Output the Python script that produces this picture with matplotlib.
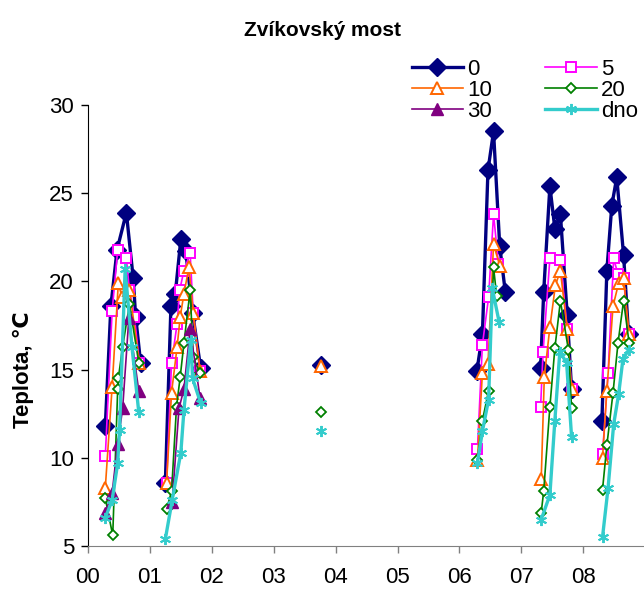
import numpy as np
import matplotlib.pyplot as plt
from matplotlib.lines import Line2D

nan = np.nan

# sampling dates (fractional years) and temperatures per depth, gaps between seasons
x_0 = [2000.28, 2000.37, 2000.47, 2000.62, 2000.73, 2000.77, 2000.85, nan,
       2001.25, 2001.34, 2001.41, 2001.50, 2001.58, 2001.69, 2001.82, nan,
       2003.76, nan,
       2006.28, 2006.37, 2006.46, 2006.55, 2006.65, 2006.74, nan,
       2007.31, 2007.36, 2007.46, 2007.54, 2007.63, 2007.74, 2007.81, nan,
       2008.30, 2008.38, 2008.46, 2008.54, 2008.65, 2008.73]
t_0 = [11.8, 18.6, 21.8, 23.9, 20.2, 18.0, 15.4, nan,
       8.6, 18.6, 19.3, 22.4, 21.7, 18.2, 15.1, nan,
       15.25, nan,
       14.9, 17.0, 26.3, 28.5, 22.0, 19.4, nan,
       15.1, 19.4, 25.4, 23.0, 23.8, 18.1, 13.9, nan,
       12.1, 20.6, 24.3, 25.9, 21.5, 17.0]

x_5 = [2000.28, 2000.39, 2000.48, 2000.62, 2000.67, 2000.75, 2000.83, nan,
       2001.27, 2001.35, 2001.44, 2001.48, 2001.55, 2001.65, 2001.70, 2001.81, nan,
       2006.29, 2006.37, 2006.47, 2006.55, 2006.63, nan,
       2007.31, 2007.35, 2007.46, 2007.63, 2007.74, 2007.81, nan,
       2008.31, 2008.40, 2008.49, 2008.56, 2008.65, 2008.73]
t_5 = [10.1, 18.3, 21.8, 21.3, 19.5, 18.0, 15.4, nan,
       8.6, 15.4, 17.6, 19.5, 20.6, 21.6, 18.2, 14.9, nan,
       10.5, 16.4, 19.1, 23.8, 21.0, nan,
       12.9, 16.0, 21.3, 21.2, 17.3, 13.9, nan,
       10.2, 14.8, 21.3, 20.4, 20.2, 17.0]

x_10 = [2000.28, 2000.39, 2000.49, 2000.55, 2000.67, 2000.83, nan,
        2001.27, 2001.35, 2001.44, 2001.49, 2001.55, 2001.63, 2001.70, 2001.81, nan,
        2003.76, nan,
        2006.29, 2006.37, 2006.46, 2006.55, 2006.65, nan,
        2007.32, 2007.37, 2007.46, 2007.55, 2007.63, 2007.74, 2007.81, nan,
        2008.31, 2008.38, 2008.48, 2008.57, 2008.65, 2008.74]
t_10 = [8.3, 14.0, 19.9, 19.1, 19.5, 15.4, nan,
        8.6, 13.7, 16.3, 18.0, 19.3, 20.8, 18.2, 14.9, nan,
        15.2, nan,
        9.9, 14.8, 15.3, 22.1, 20.9, nan,
        8.8, 14.6, 17.4, 19.8, 20.6, 17.3, 13.9, nan,
        10.0, 13.8, 18.6, 19.9, 20.2, 17.0]

x_20 = [2000.28, 2000.40, 2000.48, 2000.49, 2000.56, 2000.67, 2000.82, nan,
        2001.27, 2001.35, 2001.43, 2001.49, 2001.55, 2001.65, 2001.70, 2001.81, nan,
        2003.76, nan,
        2006.29, 2006.37, 2006.47, 2006.55, 2006.60, nan,
        2007.32, 2007.36, 2007.46, 2007.54, 2007.63, 2007.76, 2007.81, nan,
        2008.31, 2008.38, 2008.48, 2008.56, 2008.65, 2008.74]
t_20 = [7.7, 5.6, 13.9, 14.5, 16.3, 18.7, 15.4, nan,
        7.1, 8.1, 12.9, 14.6, 16.5, 19.5, 15.7, 14.8, nan,
        12.6, nan,
        9.9, 12.1, 13.8, 20.8, 19.2, nan,
        6.9, 8.1, 12.9, 16.2, 18.9, 16.1, 12.8, nan,
        8.2, 10.7, 13.7, 16.5, 18.9, 16.5]

x_30 = [2000.28, 2000.39, 2000.48, 2000.56, 2000.66, 2000.82, nan,
        2001.36, 2001.47, 2001.55, 2001.65, 2001.81]
t_30 = [6.9, 8.0, 10.8, 12.8, 17.9, 13.8, nan,
        7.5, 12.8, 13.9, 17.3, 13.4]

x_dno = [2000.28, 2000.39, 2000.48, 2000.51, 2000.60, 2000.71, 2000.82, nan,
         2001.25, 2001.36, 2001.50, 2001.55, 2001.66, 2001.69, 2001.82, nan,
         2003.76, nan,
         2006.29, 2006.37, 2006.47, 2006.53, 2006.64, nan,
         2007.32, 2007.46, 2007.54, 2007.62, 2007.73, 2007.81, nan,
         2008.31, 2008.40, 2008.49, 2008.57, 2008.64, 2008.73]
t_dno = [6.6, 7.6, 9.7, 11.6, 20.7, 16.3, 12.6, nan,
         5.4, 7.6, 10.3, 12.7, 16.7, 14.5, 13.1, nan,
         11.5, nan,
         9.7, 11.5, 13.3, 19.6, 17.7, nan,
         6.5, 7.9, 12.1, 16.0, 15.4, 11.2, nan,
         5.5, 8.3, 11.9, 13.6, 15.6, 16.1]

labels = ['0', '5', '10', '20', '30', 'dno']
year_ticks = [2000, 2001, 2002, 2003, 2004, 2005, 2006, 2007, 2008]
year_labels = ['00', '01', '02', '03', '04', '05', '06', '07', '08']

plt.rcParams['font.family'] = ['Liberation Sans', 'DejaVu Sans']

fig = plt.figure(figsize=[6.44, 5.91], dpi=100)
ax = fig.add_axes([0.1366, 0.0761, 0.8634, 0.7462])

asterisk = (6, 2, 0)
styles = [
    dict(color='#000080', lw=2.4, marker='D', ms=9, mfc='#000080', mec='#000080'),
    dict(color='#FF00FF', lw=1.2, marker='s', ms=7.5, mfc='white', mec='#FF00FF', mew=1.4),
    dict(color='#FF6600', lw=1.2, marker='^', ms=8, mfc='white', mec='#FF6600', mew=1.4),
    dict(color='#008000', lw=1.2, marker='D', ms=5.5, mfc='white', mec='#008000', mew=1.3),
    dict(color='#800080', lw=1.2, marker='^', ms=8, mfc='#800080', mec='#800080'),
    dict(color='#33CCCC', lw=2.4, marker=asterisk, ms=8, mec='#33CCCC', mew=1.4),
]
series = [(x_0, t_0), (x_5, t_5), (x_10, t_10), (x_20, t_20), (x_30, t_30), (x_dno, t_dno)]

handles = []
for (xs, ts), st, lab in zip(series, styles, labels):
    ax.plot(np.array(xs), np.array(ts), **st)
    handles.append(Line2D([], [], label=lab, **st))

ax.set_xlim(2000, 2008.98)
ax.set_ylim(5, 30)
ax.set_xticks(year_ticks)
ax.set_xticklabels(year_labels, fontsize=16)
ax.set_yticks([5, 10, 15, 20, 25, 30])
ax.set_yticklabels(['5', '10', '15', '20', '25', '30'], fontsize=16)
ax.tick_params(axis='both', direction='out', length=5, width=1)
ax.tick_params(axis='y', pad=5)
ax.tick_params(axis='x', pad=10, colors='#808080', labelcolor='black')
ax.spines['top'].set_visible(False)
ax.spines['right'].set_visible(False)
ax.spines['bottom'].set_color('#808080')
ax.spines['left'].set_color('black')

fig.text(0.5, 0.949, 'Zvíkovský most', ha='center', va='center',
         fontsize=15, weight='bold')
fig.text(0.036, 0.375, 'Teplota, \u2103', rotation=90, ha='center', va='center',
         fontsize=16, weight='bold')

order = [0, 2, 4, 1, 3, 5]
fig.legend([handles[i] for i in order], [labels[i] for i in order],
           ncol=2, loc='upper left', bbox_to_anchor=(0.622, 0.919),
           frameon=False, fontsize=16, handlelength=2.3, handletextpad=0.2,
           labelspacing=0.0, columnspacing=2.4, borderpad=0)

plt.savefig('out.png', dpi=100)
